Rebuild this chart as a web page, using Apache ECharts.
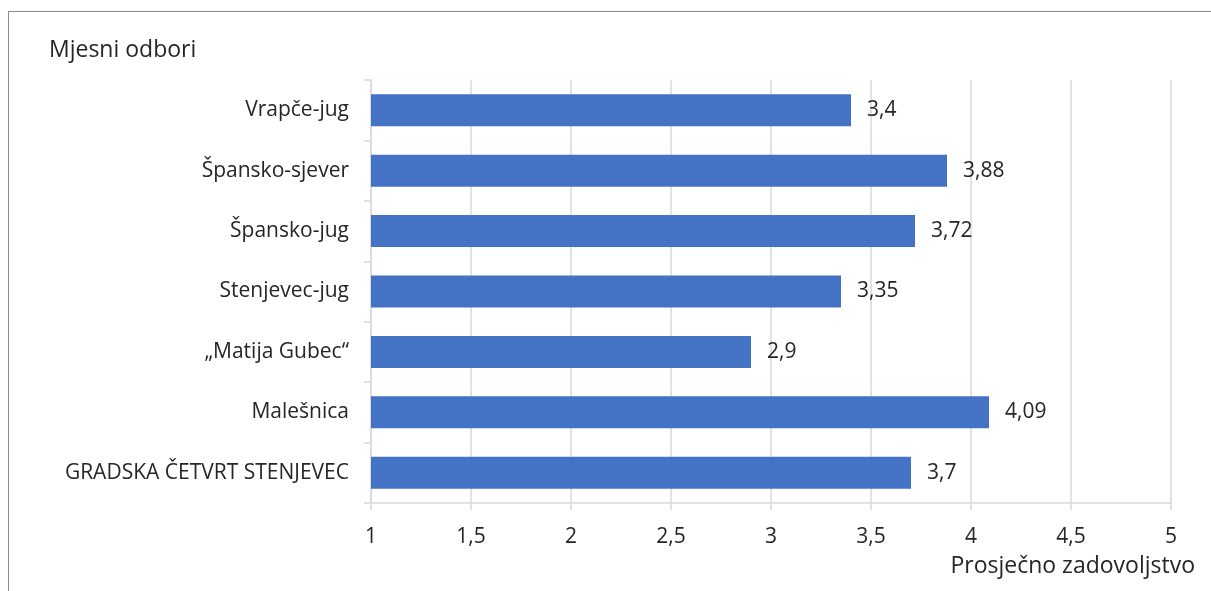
<!DOCTYPE html>
<html><head><meta charset="utf-8">
<script src="https://cdn.jsdelivr.net/npm/echarts@6/dist/echarts.min.js"></script>
<style>html,body{margin:0;padding:0;background:#fff}#c{width:1211px;height:591px}
#frame{position:absolute;left:8px;top:11px;width:1300px;height:700px;border:1px solid #8c8c8c;box-sizing:border-box;pointer-events:none}</style>
</head><body>
<div id="c"></div><div id="frame"></div>
<script>
const categories = ['Vrapče-jug','Špansko-sjever','Špansko-jug','Stenjevec-jug','„Matija Gubec“','Malešnica','GRADSKA ČETVRT STENJEVEC'];
const values = [3.4, 3.88, 3.72, 3.35, 2.9, 4.09, 3.7];
const xTicks = [1, 1.5, 2, 2.5, 3, 3.5, 4, 4.5, 5];
const title = 'Mjesni odbori';
const xName = 'Prosječno zadovoljstvo';
const fmt = v => String(v).replace('.', ',');
const font = '"Open Sans", "Noto Sans", sans-serif';
const chart = echarts.init(document.getElementById('c'));
chart.setOption({
  animation: false,
  title: {text: title, left: 44, top: 34, textStyle: {fontFamily: font, fontSize: 23, fontWeight: 'normal', color: '#262626'}},
  grid: {left: 371, right: 40, top: 80, bottom: 88, containLabel: false},
  xAxis: {
    type: 'value', min: xTicks[0], max: xTicks[xTicks.length-1], interval: 0.5,
    axisLine: {show: true, lineStyle: {color: '#d9d9d9', width: 1.5}},
    axisTick: {show: true, length: 7, lineStyle: {color: '#d9d9d9', width: 1.5}},
    splitLine: {show: true, lineStyle: {color: '#d9d9d9', width: 1.5}},
    axisLabel: {formatter: fmt, fontFamily: font, fontSize: 21, color: '#262626', margin: 24},
    name: xName, nameLocation: 'end', nameGap: 0,
    nameTextStyle: {fontFamily: font, fontSize: 23, color: '#262626', align: 'right', verticalAlign: 'top', padding: [52, -24, 0, 0]}
  },
  yAxis: {
    type: 'category', data: categories, inverse: true,
    axisLine: {show: true, lineStyle: {color: '#d9d9d9', width: 1.5}},
    axisTick: {show: true, length: 7, lineStyle: {color: '#d9d9d9', width: 1.5}},
    axisLabel: {fontFamily: font, fontSize: 21, color: '#262626', margin: 22}
  },
  series: [{
    type: 'bar', data: values, barCategoryGap: '47%',
    itemStyle: {color: '#4472C4'},
    label: {show: true, position: 'right', distance: 16, formatter: p => fmt(p.value), fontFamily: font, fontSize: 21, color: '#262626'}
  }]
});
</script>
</body></html>
